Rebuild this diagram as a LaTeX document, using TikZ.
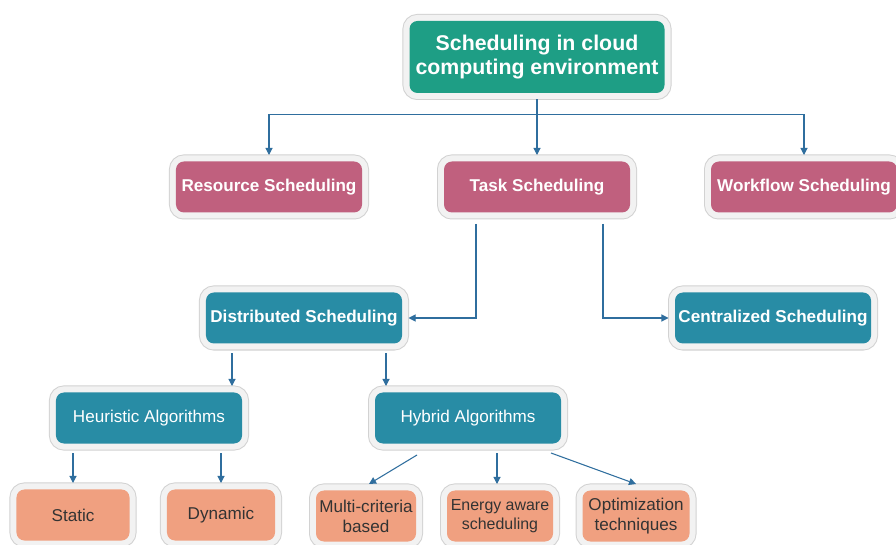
\documentclass[tikz,border=0pt]{standalone}
\usepackage{fontspec}
\setmainfont{Liberation Sans}
\usetikzlibrary{calc,arrows.meta}

\definecolor{rootgreen}{HTML}{1E9E85}
\definecolor{kindpink}{HTML}{C0607E}
\definecolor{modeteal}{HTML}{288CA5}
\definecolor{leafsalmon}{HTML}{F0A080}
\definecolor{framefill}{HTML}{F2F2F2}
\definecolor{frameline}{HTML}{D2D2D2}
\definecolor{linkblue}{HTML}{2F6E9E}

\begin{document}
\begin{tikzpicture}[
  x=0.03cm, y=-0.03cm,
  card/.style={rounded corners=0.24cm, inner sep=0pt, align=center,
               outer sep=0.195cm,
               preaction={draw=frameline, line width=0.42cm},
               preaction={draw=framefill, line width=0.36cm}},
  root/.style={card, fill=rootgreen, text=white, font=\fontsize{18.2}{21}\selectfont\bfseries,
               minimum width=7.65cm, minimum height=2.16cm},
  kind/.style={card, fill=kindpink, text=white, font=\fontsize{14.6}{17}\selectfont\bfseries,
               minimum width=5.58cm, minimum height=1.53cm},
  mode/.style={card, fill=modeteal, text=white, font=\fontsize{14.6}{17}\selectfont\bfseries,
               minimum width=5.88cm, minimum height=1.53cm},
  algo/.style={card, fill=modeteal, text=white, font=\fontsize{14.6}{17}\selectfont,
               minimum width=5.58cm, minimum height=1.53cm},
  leaf/.style={card, fill=leafsalmon, text=black!80, font=\fontsize{14.6}{17}\selectfont,
               minimum height=1.53cm},
  arr/.style={-{Triangle[length=6pt,width=6pt]}, linkblue, line width=0.9pt}
]
\clip (0,0) rectangle (896,545);
\fill[white] (0,0) rectangle (896,545);

%% Root
\node[root] (root) at (537,57) {Scheduling in cloud\\computing environment};

%% Kinds of scheduling
\node[kind] (res)  at (269,187) {Resource Scheduling};
\node[kind] (task) at (537,187) {Task Scheduling};
\node[kind] (work) at (804,187) {Workflow Scheduling};

\draw[arr] (root.south) -- ++(0,15) -| (res.north);
\draw[arr] (root.south) -- (task.north);
\draw[arr] (root.south) -- ++(0,15) -| (work.north);

%% Task scheduling modes
\node[mode] (dist) at (304,318) {Distributed Scheduling};
\node[mode] (cent) at (773,318) {Centralized Scheduling};

\draw[arr] ($(task.south)+(-61,5)$) |- (dist.east);
\draw[arr] ($(task.south)+(66,5)$) |- (cent.west);

%% Algorithm families
\node[algo] (heur) at (149,418) {Heuristic Algorithms};
\node[algo] (hyb)  at (468,418) {Hybrid Algorithms};

\draw[arr] ($(dist.south)+(-72,3)$) coordinate (d1) -- (d1 |- heur.north);
\draw[arr] ($(dist.south)+(82,3)$) coordinate (d2) -- (d2 |- hyb.north);

%% Leaves
\node[leaf, minimum width=3.39cm] (stat)  at (73,515)  {Static};
\node[leaf, minimum width=3.24cm] (dyn)   at (221,515) {Dynamic};
\node[leaf, minimum width=3.0cm]  (multi) at (366,516) {Multi-criteria\\based};
\node[leaf, minimum width=3.18cm, font=\fontsize{13.6}{16}\selectfont] (ener) at (500,516) {Energy aware\\scheduling};
\node[leaf, minimum width=3.21cm] (opt)   at (636,516) {Optimization\\techniques};

\coordinate (h0) at ($(heur.south)+(0,3)$);
\draw[arr] (h0 -| stat.north) -- (stat.north);
\draw[arr] (h0 -| dyn.north) -- (dyn.north);
\draw[arr] ($(hyb.south)+(-51,5)$) -- ($(multi.north)+(3,0)$);
\draw[arr] ($(hyb.south)+(29,3)$) coordinate (h2) -- (h2 |- ener.north);
\draw[arr] ($(hyb.south)+(83,3)$) -- (opt.north);

\end{tikzpicture}
\end{document}
